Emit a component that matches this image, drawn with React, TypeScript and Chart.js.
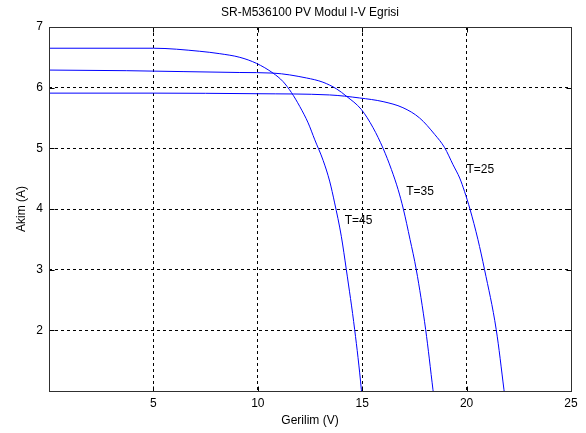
import React, { useEffect, useRef } from 'react';
import { Chart, registerables } from 'chart.js';

Chart.register(...registerables);

const TITLE = 'SR-M536100 PV Modul I-V Egrisi';
const X_LABEL = 'Gerilim (V)';
const Y_LABEL = 'Akim (A)';

const xTickValues = [5, 10, 15, 20, 25];
const yTickValues = [2, 3, 4, 5, 6, 7];

// T=25
const voltage25 = [0, 5, 10, 13.44, 14.88, 16.0, 16.95, 17.75, 18.47, 18.95, 19.35, 19.67, 19.9, 20.16, 20.54, 20.86, 21.42, 21.79, 21.85];
const current25 = [5.91, 5.91, 5.9, 5.88, 5.83, 5.77, 5.67, 5.5, 5.23, 5.01, 4.73, 4.51, 4.29, 4.0, 3.5, 3.0, 2.01, 1.02, 0.85];

// T=35
const voltage35 = [0, 3.7, 9.14, 10.73, 12.33, 13.12, 13.77, 14.24, 14.96, 15.52, 16.0, 16.4, 16.72, 16.97, 17.29, 17.59, 18.04, 18.39, 18.45];
const current35 = [6.29, 6.28, 6.25, 6.24, 6.16, 6.09, 5.98, 5.86, 5.64, 5.34, 5.0, 4.65, 4.32, 4.0, 3.5, 3.0, 2.01, 1.02, 0.85];

// T=45
const voltage45 = [0, 5, 7.22, 8.18, 9.14, 9.94, 10.73, 11.21, 11.61, 12.01, 12.41, 12.73, 13.13, 13.44, 13.68, 14.0, 14.24, 14.64, 14.96, 15.0];
const current45 = [6.65, 6.65, 6.6, 6.56, 6.5, 6.4, 6.24, 6.1, 5.92, 5.69, 5.42, 5.14, 4.8, 4.46, 4.1, 3.55, 3.0, 2.01, 1.02, 0.85];

const seriesNames = ['T=25', 'T=35', 'T=45'];
const seriesVoltages = [voltage25, voltage35, voltage45];
const seriesCurrents = [current25, current35, current45];
// annotation anchor points (data coordinates)
const annotationV = [19.99, 17.11, 14.16];
const annotationI = [4.65, 4.29, 3.8];

const FONT = '"Liberation Sans", Arial, Helvetica, sans-serif';

const decorPlugin = {
  id: 'decor',
  afterDraw(chart: any) {
    const { ctx, chartArea } = chart;
    const { left, top, right, bottom } = chartArea;
    const xs = chart.scales.x;
    const ys = chart.scales.y;
    ctx.save();
    ctx.setLineDash([]);
    ctx.strokeStyle = '#000';
    ctx.lineWidth = 1;
    const L = Math.round(left) + 0.5;
    const R = Math.round(right) + 0.5;
    const T = Math.round(top) + 0.5;
    const B = Math.round(bottom) + 0.5;
    ctx.beginPath();
    for (const v of xTickValues) {
      const px = Math.round(xs.getPixelForValue(v)) + 0.5;
      ctx.moveTo(px, B);
      ctx.lineTo(px, B - 5);
      ctx.moveTo(px, T);
      ctx.lineTo(px, T + 5);
    }
    for (const v of yTickValues) {
      const py = Math.round(ys.getPixelForValue(v)) + 0.5;
      ctx.moveTo(L, py);
      ctx.lineTo(L + 5, py);
      ctx.moveTo(R, py);
      ctx.lineTo(R - 5, py);
    }
    ctx.stroke();
    ctx.strokeStyle = '#303030';
    ctx.strokeRect(L, T, R - L, B - T);

    ctx.fillStyle = '#000';
    ctx.font = '12px ' + FONT;
    ctx.textAlign = 'left';
    ctx.textBaseline = 'middle';
    for (let i = 0; i < seriesNames.length; i++) {
      ctx.fillText(seriesNames[i], xs.getPixelForValue(annotationV[i]), ys.getPixelForValue(annotationI[i]));
    }
    ctx.textAlign = 'center';
    ctx.fillText(TITLE, (left + right) / 2, 13);
    ctx.restore();
  },
};

export default function App() {
  const ref = useRef<HTMLCanvasElement | null>(null);
  useEffect(() => {
    if (!ref.current) return;
    const datasets = seriesNames.map((name, i) => ({
      label: name,
      data: seriesVoltages[i].map((v, j) => ({ x: v, y: seriesCurrents[i][j] })),
      borderColor: '#0000ff',
      backgroundColor: '#0000ff',
      borderWidth: 1,
      pointRadius: 0,
      cubicInterpolationMode: 'monotone' as const,
      fill: false,
    }));
    const gridColor = (c: any) => {
      const v = c.tick ? c.tick.value : null;
      if (v === null) return 'rgba(0,0,0,0)';
      const s = c.scale;
      if (v <= s.min || v >= s.max) return 'rgba(0,0,0,0)';
      return '#000';
    };
    const chart = new Chart(ref.current, {
      type: 'line',
      data: { datasets },
      plugins: [decorPlugin],
      options: {
        animation: false,
        responsive: false,
        devicePixelRatio: 1,
        layout: { padding: { top: 27, right: 15, left: 0, bottom: 0 } },
        plugins: { legend: { display: false }, tooltip: { enabled: false }, title: { display: false } },
        scales: {
          x: {
            type: 'linear',
            min: 0,
            max: 25,
            afterFit: (s: any) => { s.height = 42; },
            ticks: {
              stepSize: 5,
              maxRotation: 0,
              padding: 5,
              color: '#000',
              font: { family: FONT, size: 12 },
              callback: (v: any) => (xTickValues.includes(Number(v)) ? String(v) : ''),
            },
            grid: { drawTicks: false, color: gridColor, lineWidth: 1 },
            border: { display: false, dash: [3, 3] },
            title: {
              display: true,
              text: X_LABEL,
              color: '#000',
              font: { family: FONT, size: 12 },
              padding: { top: 0, bottom: 5 },
            },
          },
          y: {
            type: 'linear',
            min: 1,
            max: 7,
            afterFit: (s: any) => { s.width = 49; },
            ticks: {
              stepSize: 1,
              padding: 6,
              color: '#000',
              font: { family: FONT, size: 12 },
              callback: (v: any) => (yTickValues.includes(Number(v)) ? String(v) : ''),
            },
            grid: { drawTicks: false, color: gridColor, lineWidth: 1 },
            border: { display: false, dash: [3, 3] },
            title: {
              display: true,
              text: Y_LABEL,
              color: '#000',
              font: { family: FONT, size: 12 },
              padding: { top: 14, bottom: 0 },
            },
          },
        },
      },
    });
    return () => chart.destroy();
  }, []);
  return (
    <div style={{ position: 'absolute', left: 0, top: 0, width: 586, height: 433, background: '#fff' }}>
      <canvas ref={ref} width={586} height={433} style={{ display: 'block' }} />
    </div>
  );
}
